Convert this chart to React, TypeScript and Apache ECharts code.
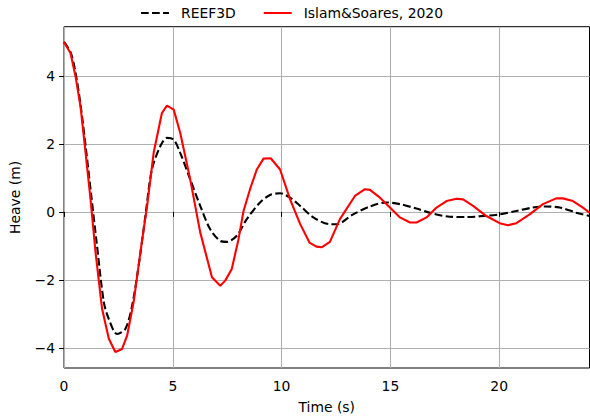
import React, { useEffect, useRef } from "react";
import * as echarts from "echarts";

const reefTime = [0, 0.3, 0.5, 0.75, 1.0, 1.25, 1.5, 1.83, 2.06, 2.44, 2.82, 3.13, 3.43, 3.74, 4.04, 4.43, 4.73, 5.04, 5.34, 5.8, 6.26, 6.72, 7.18, 7.49, 7.94, 8.4, 9.01, 9.47, 9.93, 10.39, 10.85, 11.46, 12.22, 12.53, 13.29, 14.06, 14.82, 15.44, 16.2, 16.96, 17.73, 18.5, 19.26, 20.02, 20.79, 21.55, 22.16, 22.78, 23.54, 24.15];
const reefHeave = [5.0, 4.7, 4.2, 3.2, 1.9, 0.5, -0.9, -2.65, -3.15, -3.59, -3.44, -2.76, -1.58, -0.12, 1.25, 1.94, 2.18, 2.13, 1.74, 0.96, 0.18, -0.51, -0.85, -0.88, -0.7, -0.21, 0.28, 0.5, 0.55, 0.42, 0.18, -0.16, -0.36, -0.36, -0.07, 0.16, 0.28, 0.23, 0.1, -0.05, -0.14, -0.15, -0.12, -0.07, 0.03, 0.13, 0.16, 0.13, -0.02, -0.12];

const islamTime = [0, 0.3, 0.53, 0.76, 0.99, 1.22, 1.45, 1.75, 2.06, 2.36, 2.67, 2.9, 3.2, 3.51, 3.82, 4.12, 4.5, 4.73, 5.04, 5.34, 5.8, 6.26, 6.8, 7.18, 7.41, 7.71, 8.02, 8.25, 8.55, 8.86, 9.17, 9.5, 9.93, 10.39, 10.85, 11.28, 11.6, 11.84, 12.22, 12.68, 13.37, 13.83, 14.06, 14.52, 14.98, 15.44, 15.9, 16.2, 16.66, 17.12, 17.58, 18.04, 18.34, 18.8, 19.41, 20.02, 20.4, 20.79, 21.4, 22.01, 22.62, 22.93, 23.39, 23.85, 24.15];
const islamHeave = [5.0, 4.67, 3.99, 3.1, 1.75, 0.37, -1.19, -2.85, -3.73, -4.12, -4.03, -3.64, -2.65, -1.19, 0.18, 1.74, 2.91, 3.13, 3.01, 2.33, 0.96, -0.6, -1.92, -2.17, -2.02, -1.68, -0.8, 0.03, 0.67, 1.25, 1.57, 1.58, 1.25, 0.37, -0.35, -0.9, -1.02, -1.04, -0.88, -0.21, 0.47, 0.67, 0.65, 0.42, 0.13, -0.16, -0.31, -0.31, -0.16, 0.13, 0.32, 0.39, 0.37, 0.18, -0.12, -0.33, -0.39, -0.33, -0.07, 0.23, 0.4, 0.4, 0.32, 0.13, -0.02];

const xTicks = [0, 5, 10, 15, 20];
const yTicks = [-4, -2, 0, 2, 4];
const xMin = 0;
const xMax = 24.15;
const yMin = -4.59;
const yMax = 5.45;

const FONT = "DejaVu Sans";
const fmt = (v: number) => String(v).replace("-", "\u2212");

export default function App() {
  const ref = useRef<HTMLDivElement>(null);
  useEffect(() => {
    if (!ref.current) return;
    const chart = echarts.init(ref.current, undefined, { renderer: "svg" });
    const zip = (t: number[], v: number[]) => t.map((x, i) => [x, v[i]]);
    chart.setOption({
      animation: false,
      backgroundColor: "#fff",
      textStyle: { fontFamily: FONT },
      legend: {
        top: 6,
        left: 140,
        padding: 0,
        itemWidth: 28,
        itemHeight: 14,
        itemGap: 27,
        itemStyle: { opacity: 0 },
        textStyle: { fontFamily: FONT, fontSize: 13.9, color: "#000", padding: [0, 0, 0, 7] },
        data: ["REEF3D", "Islam&Soares, 2020"],
      },
      grid: {
        left: 63.5,
        right: 0.5,
        top: 26.7,
        bottom: 49.7,
        show: true,
        borderColor: "#000",
        borderWidth: 1,
        containLabel: false,
      },
      xAxis: {
        type: "value",
        min: xMin,
        max: xMax,
        name: "Time (s)",
        nameLocation: "middle",
        nameGap: 32,
        nameTextStyle: { fontFamily: FONT, fontSize: 13.9, color: "#000" },
        axisLine: { show: false },
        axisTick: { show: true, inside: false, length: 4.9, customValues: xTicks, lineStyle: { color: "#000", width: 1 } },
        axisLabel: { customValues: xTicks, formatter: fmt, fontFamily: FONT, fontSize: 13.9, color: "#000", margin: 11 },
        splitLine: { show: true, lineStyle: { color: "#b0b0b0", width: 1.1 } },
      },
      yAxis: {
        type: "value",
        min: yMin,
        max: yMax,
        name: "Heave (m)",
        nameLocation: "middle",
        nameGap: 42,
        nameTextStyle: { fontFamily: FONT, fontSize: 13.9, color: "#000" },
        axisLine: { show: false },
        axisTick: { show: true, inside: false, length: 4.9, customValues: yTicks, lineStyle: { color: "#000", width: 1 } },
        axisLabel: { customValues: yTicks, formatter: fmt, fontFamily: FONT, fontSize: 13.9, color: "#000", margin: 9 },
        splitLine: { show: true, lineStyle: { color: "#b0b0b0", width: 1.1 } },
      },
      series: [
        {
          name: "REEF3D",
          type: "line",
          data: zip(reefTime, reefHeave),
          showSymbol: false,
          symbol: "none",
          smooth: 0.3,
          lineStyle: { color: "#000", width: 2.1, type: [7.7, 3.3] },
          itemStyle: { color: "#000" },
          z: 2,
        },
        {
          name: "Islam&Soares, 2020",
          type: "line",
          data: zip(islamTime, islamHeave),
          showSymbol: false,
          symbol: "none",
          lineStyle: { color: "#ff0000", width: 2.1 },
          itemStyle: { color: "#ff0000" },
          z: 3,
        },
      ],
    });
    return () => chart.dispose();
  }, []);
  return <div ref={ref} style={{ position: "absolute", left: 0, top: 0, width: 590, height: 419 }} />;
}
